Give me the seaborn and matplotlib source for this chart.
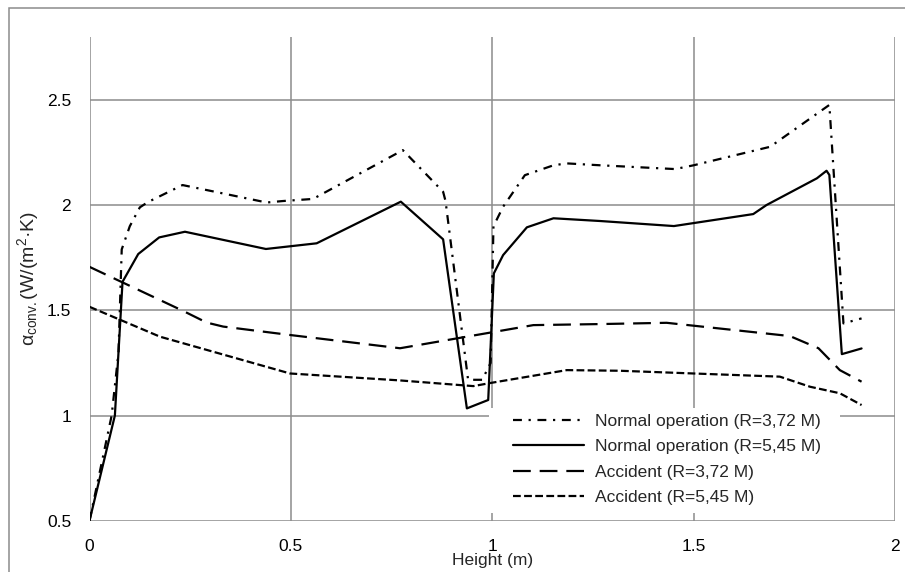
import matplotlib
matplotlib.use("Agg")
import matplotlib.pyplot as plt
from matplotlib.patches import Rectangle
import seaborn as sns
import pandas as pd

# Convective heat transfer coefficient along the height
normal_372_x = [0, 0.055, 0.072, 0.08, 0.10, 0.125, 0.145, 0.231, 0.44, 0.48, 0.555,
                0.778, 0.878, 0.884, 0.94, 0.975, 0.996, 1.003, 1.027, 1.081, 1.152,
                1.185, 1.268, 1.454, 1.50, 1.69, 1.837, 1.872, 1.917]
normal_372_y = [0.5, 1.0, 1.3, 1.79, 1.90, 1.99, 2.015, 2.096, 2.013, 2.02, 2.03,
                2.262, 2.064, 2.02, 1.17, 1.17, 1.25, 1.90, 1.993, 2.143, 2.19,
                2.199, 2.19, 2.172, 2.19, 2.278, 2.477, 1.438, 1.462]

normal_545_x = [0, 0.063, 0.082, 0.121, 0.173, 0.237, 0.438, 0.564, 0.773, 0.878,
                0.937, 0.99, 1.004, 1.027, 1.086, 1.152, 1.268, 1.451, 1.648, 1.681,
                1.806, 1.83, 1.837, 1.868, 1.917]
normal_545_y = [0.5, 1.0, 1.636, 1.768, 1.847, 1.874, 1.792, 1.819, 2.017, 1.838,
                1.034, 1.074, 1.676, 1.763, 1.895, 1.938, 1.925, 1.901, 1.958, 2.001,
                2.128, 2.164, 2.144, 1.292, 1.319]

accident_372_x = [0, 0.233, 0.291, 0.332, 0.498, 0.771, 1.102, 1.268, 1.433, 1.739,
                  1.81, 1.863, 1.917]
accident_372_y = [1.707, 1.497, 1.442, 1.423, 1.383, 1.32, 1.43, 1.435, 1.441, 1.378,
                  1.32, 1.216, 1.161]

accident_545_x = [0, 0.175, 0.498, 0.771, 0.953, 0.999, 1.185, 1.317, 1.5, 1.714,
                  1.789, 1.863, 1.917]
accident_545_y = [1.517, 1.375, 1.2, 1.167, 1.14, 1.156, 1.216, 1.213, 1.20, 1.185,
                  1.137, 1.106, 1.05]

series_labels = ["Normal operation (R=3,72 M)", "Normal operation (R=5,45 M)",
                 "Accident (R=3,72 M)", "Accident (R=5,45 M)"]
x_ticks = [0, 0.5, 1, 1.5, 2]
y_ticks = [0.5, 1, 1.5, 2, 2.5]

sns.set_style("white")
plt.rcParams["font.family"] = ["Liberation Sans", "DejaVu Sans"]
plt.rcParams["mathtext.fontset"] = "custom"
plt.rcParams["mathtext.rm"] = "Liberation Sans"
plt.rcParams["mathtext.it"] = "Liberation Sans"

W, H = 905, 572
fig = plt.figure(figsize=(W / 100, H / 100), dpi=100)
ax = fig.add_axes([89.5 / W, 1 - 520.7 / H, (895 - 89.5) / W, (520.7 - 37) / H])

styles = [(0, (4, 3, 1, 3)), "solid", (0, (8, 4)), (0, (3.5, 1.5))]
data = [(normal_372_x, normal_372_y), (normal_545_x, normal_545_y),
        (accident_372_x, accident_372_y), (accident_545_x, accident_545_y)]

for (xs, ys), lab, ls in zip(data, series_labels, styles):
    df = pd.DataFrame({"h": xs, "a": ys})
    sns.lineplot(data=df, x="h", y="a", ax=ax, color="black", linewidth=1.6,
                 linestyle=ls, label=lab, sort=False, estimator=None, zorder=3)

ax.set_xlim(0, 2)
ax.set_ylim(0.5, 2.8)
ax.set_xticks(x_ticks)
ax.set_xticklabels(["0", "0.5", "1", "1.5", "2"])
ax.set_yticks(y_ticks)
ax.set_yticklabels(["0.5", "1", "1.5", "2", "2.5"])

grid_color = "#8c8c8c"
ax.grid(True, color=grid_color, linewidth=1.1)
for s in ax.spines.values():
    s.set_visible(False)
ax.tick_params(axis="both", which="both", length=4.7, width=1.1, color=grid_color,
               labelsize=12.5, labelcolor="black", direction="out")
ax.tick_params(axis="y", pad=8.5)
ax.tick_params(axis="x", pad=8.5)

ax.set_xlabel("Height (m)", fontsize=12.5)
ax.xaxis.label.set_va("center")
ax.xaxis.set_label_coords(0.5, -0.082)
ax.set_ylabel(r"$\mathregular{\alpha_{conv.}}$(W/(m$^{\mathregular{2}}$·K)", fontsize=14)
ax.yaxis.label.set_va("center")
ax.yaxis.set_label_coords(-0.0763, 0.5)

# white background behind the legend
ax.add_patch(Rectangle((0.496, 0.016), 0.436, 0.217, transform=ax.transAxes,
                       facecolor="white", edgecolor="none", zorder=4, clip_on=False))
leg = ax.legend(loc="center left", bbox_to_anchor=(513 / W, 1 - 459.5 / H),
                bbox_transform=fig.transFigure, frameon=False, fontsize=12.5,
                handlelength=4.1, handletextpad=0.6, labelspacing=0.58,
                borderpad=0, borderaxespad=0)
leg.set_zorder(5)

# outer frame of the figure
fig.add_artist(Rectangle((9 / W, -0.1), 1.2, 1 - 8 / H + 0.1, transform=fig.transFigure,
                         facecolor="none", edgecolor=grid_color, linewidth=1.1))

fig.savefig("out.png", dpi=100)
